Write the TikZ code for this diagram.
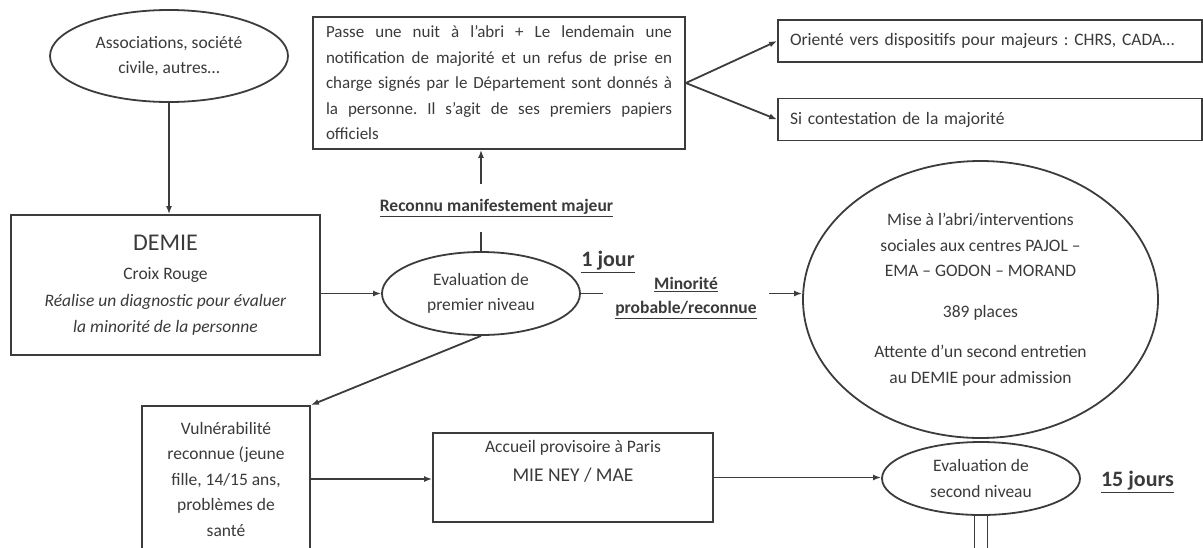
\documentclass[tikz,border=0pt]{standalone}
\usepackage{fontspec}
\setmainfont{Carlito}
\usetikzlibrary{shapes.geometric,arrows.meta}
\definecolor{lncol}{HTML}{3C3C3C}
\definecolor{txcol}{HTML}{3A3A3A}
\frenchspacing
\tikzset{
  base/.style={draw=lncol, line width=1.8pt, text=txcol, font=\fontsize{17.5}{25.5}\selectfont, inner sep=0pt},
  oval/.style={base, ellipse, align=center},
  boxn/.style={base, rectangle, align=center},
  lab/.style={text=txcol, font=\bfseries\fontsize{17.5}{24}\selectfont, align=center, inner sep=0pt},
  arr/.style={draw=lncol, line width=1.8pt, -{Latex[length=8pt,width=6pt]}},
  plain/.style={draw=lncol, line width=1.8pt},
}
\begin{document}
\begin{tikzpicture}[x=1pt,y=-1pt]
\useasboundingbox (0,0) rectangle (1203,547);
\clip (0,0) rectangle (1203,547);

\node[oval, minimum width=238pt, minimum height=92pt] (assoc) at (169,56) {Associations, société\\civile, autres…};

\node[boxn, minimum width=309pt, minimum height=140pt] (demie) at (165.5,285)
  {{\fontsize{24}{30}\selectfont DEMIE}\\[4pt]Croix Rouge\\[1.5pt]\textit{Réalise un diagnostic pour évaluer}\\\textit{la minorité de la personne}};

\node[base, rectangle, minimum width=372pt, minimum height=132pt] (top) at (499,83) {%
\begin{minipage}{346pt}\fontsize{17}{25.5}\selectfont\frenchspacing
\makebox[\linewidth][s]{Passe une nuit à l’abri + Le lendemain une}\\
\makebox[\linewidth][s]{notification de majorité et un refus de prise en}\\
\makebox[\linewidth][s]{charge signés par le Département sont donnés à}\\
\makebox[\linewidth][s]{la personne. Il s’agit de ses premiers papiers}\\
officiels
\end{minipage}};

\node[boxn, minimum width=424pt, minimum height=42pt, align=left, text width=400pt] (orient) at (990,41) {Orienté vers dispositifs pour majeurs : CHRS, CADA…};
\node[boxn, minimum width=424pt, minimum height=42pt, align=left, text width=400pt] (contest) at (990,119.5) {Si contestation de la majorité};

\node[oval, minimum width=198pt, minimum height=83pt] (eval1) at (481,293.5) {Evaluation de\\premier niveau};

\node[lab, minimum height=47pt] (reconnu) at (496.5,208) {\underline{Reconnu manifestement majeur}};
\node[lab, font=\bfseries\fontsize{22}{26}\selectfont] (jour1) at (608,262) {\underline{1 jour}};
\node[lab, minimum width=166pt] (minor) at (686,298) {\underline{Minorité}\\\underline{probable/reconnue}};

\node[oval, minimum width=355pt, minimum height=277pt] (bigell) at (980.5,299.5)
  {Mise à l’abri/interventions\\sociales aux centres PAJOL –\\EMA – GODON – MORAND\\[15pt]389 places\\[15pt]Attente d’un second entretien\\au DEMIE pour admission};

\node[boxn, minimum width=168pt, minimum height=146pt] (vuln) at (226,479) {Vulnérabilité\\reconnue (jeune\\fille, 14/15 ans,\\problèmes de\\santé};

\node[boxn, minimum width=280pt, minimum height=89pt] (accueil) at (573,477.5)
  {Accueil provisoire à Paris\\[3pt]{\fontsize{19.5}{25.5}\selectfont MIE NEY / MAE}\\\strut};

\node[oval, minimum width=198pt, minimum height=73pt] (eval2) at (981,478.5) {Evaluation de\\second niveau};
\node[lab, font=\bfseries\fontsize{22}{26}\selectfont] (jours15) at (1137.5,482) {\underline{15 jours}};

\coordinate (bot) at (981,560);

\draw[arr] (assoc.south) -- (assoc.south |- demie.north);
\draw[arr] (demie.east |- eval1.west) -- (eval1.west);
\draw[plain] (eval1.north) -- (eval1.north |- reconnu.south);
\draw[arr] (eval1.north |- reconnu.north) -- (eval1.north |- top.south);
\draw[arr] (top.east) -- (orient.west);
\draw[arr] (top.east) -- (contest.west);
\draw[plain] (eval1.east) -- (eval1.east -| minor.west);
\draw[arr] (minor.east |- eval1.east) -- (eval1.east -| bigell.west);
\draw[arr] (eval1.south) -- (vuln.north east);
\draw[arr] (vuln.east) -- (vuln.east -| accueil.west);
\draw[arr] (accueil.east) -- (accueil.east -| eval2.west);
\draw[plain] ([xshift=-6.5pt]eval2.south) -- ([xshift=-6.5pt]bot);
\draw[plain] ([xshift=6.5pt]eval2.south) -- ([xshift=6.5pt]bot);
\end{tikzpicture}
\end{document}
